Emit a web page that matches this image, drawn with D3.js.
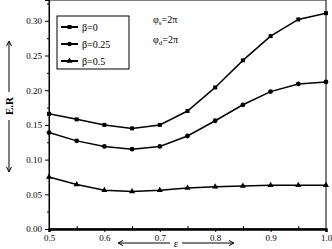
<!DOCTYPE html>
<html>
<head>
<script src="https://d3js.org/d3.v7.min.js"></script>
<style>
  body { margin: 0; background: #fff; }
  text { font-family: "Liberation Serif", "DejaVu Serif", serif; fill: #000; }
</style>
</head>
<body>
<script>
const w = 332, h = 249
const eps = [0.5, 0.55, 0.6, 0.65, 0.7, 0.75, 0.8, 0.85, 0.9, 0.95, 1.0]
const erBeta0 = [0.166, 0.158, 0.150, 0.145, 0.150, 0.170, 0.204, 0.243, 0.278, 0.302, 0.311]
const erBeta025 = [0.139, 0.127, 0.119, 0.115, 0.119, 0.134, 0.156, 0.179, 0.198, 0.209, 0.212]
const erBeta05 = [0.075, 0.064, 0.056, 0.054, 0.056, 0.059, 0.061, 0.062, 0.063, 0.063, 0.063]
const seriesNames = ["\u03b2=0", "\u03b2=0.25", "\u03b2=0.5"]
const markers = [d3.symbolSquare, d3.symbolCircle, d3.symbolTriangle]
const xTicks = [0.5, 0.6, 0.7, 0.8, 0.9, 1.0]
const yTicks = [0, 0.05, 0.10, 0.15, 0.20, 0.25, 0.30]

const series = [erBeta0, erBeta025, erBeta05]

const svg = d3.select("body").append("svg").attr("width", w).attr("height", h)

const x = d3.scaleLinear().domain([0.5, 1.0]).range([49, 326])
const y = d3.scaleLinear().domain([0, 0.33]).range([229, 0])

// frame
svg.append("rect").attr("x", x(0.5)).attr("y", y(0.33)).attr("width", x(1) - x(0.5)).attr("height", y(0) - y(0.33))
  .attr("fill", "none").attr("stroke", "#000").attr("stroke-width", 1)

// y axis
const yAx = svg.append("g").attr("transform", `translate(${x(0.5)},0)`)
  .call(d3.axisLeft(y).tickValues(yTicks).tickFormat(d3.format(".2f")).tickSize(4).tickPadding(3))
yAx.select(".domain").attr("stroke-width", 1)
yAx.selectAll("text").style("font-size", "9px").style("font-family", "Liberation Serif")
svg.append("g").attr("transform", `translate(${x(0.5)},0)`)
  .call(d3.axisLeft(y).tickValues(d3.range(0.025, 0.33, 0.05)).tickFormat("").tickSize(2))
  .select(".domain").remove()

// x axis
const xAx = svg.append("g").attr("transform", `translate(0,${y(0)})`)
  .call(d3.axisBottom(x).tickValues(xTicks).tickFormat(d3.format(".1f")).tickSize(3).tickPadding(3))
xAx.select(".domain").attr("stroke-width", 2.5)
xAx.selectAll("text").style("font-size", "9px").style("font-family", "Liberation Serif")
svg.append("g").attr("transform", `translate(0,${y(0)})`)
  .call(d3.axisBottom(x).tickValues([0.55, 0.65, 0.75, 0.85, 0.95]).tickSize(-3).tickFormat(""))
  .select(".domain").remove()

// lines
const line = d3.line().x((d, i) => x(eps[i])).y(d => y(d))
series.forEach((s, k) => {
  svg.append("path").datum(s).attr("d", line).attr("fill", "none").attr("stroke", "#000").attr("stroke-width", 1.5)
  svg.selectAll(".m" + k).data(s).enter().append("path")
    .attr("d", d3.symbol().type(markers[k]).size(k === 1 ? 18 : 16))
    .attr("transform", (d, i) => `translate(${x(eps[i])},${y(d)})`)
    .attr("fill", "#000")
})

// legend
const lg = svg.append("g")
lg.append("rect").attr("x", 57).attr("y", 16).attr("width", 72).attr("height", 53)
  .attr("fill", "#fff").attr("stroke", "#000").attr("stroke-width", 1)
seriesNames.forEach((n, k) => {
  const ly = 27 + k * 17
  lg.append("line").attr("x1", 61).attr("x2", 78).attr("y1", ly).attr("y2", ly).attr("stroke", "#000").attr("stroke-width", 2)
  lg.append("path").attr("d", d3.symbol().type(markers[k]).size(16)).attr("transform", `translate(69.5,${ly})`)
  lg.append("text").attr("x", 82).attr("y", ly + 3.5).style("font-size", "10px").text(n)
})

// annotations
const ann = [["s", 23], ["d", 43]]
ann.forEach(([sub, ay]) => {
  const t = svg.append("text").attr("x", 153).attr("y", ay).style("font-size", "10px")
  t.append("tspan").text("\u03c6")
  t.append("tspan").attr("dy", 2).style("font-size", "7px").text(sub)
  t.append("tspan").attr("dy", -2).text("=2\u03c0")
})

// y title with arrows
const ax = 9
svg.append("text").attr("transform", `translate(${ax + 4},106) rotate(-90)`).attr("text-anchor", "middle")
  .style("font-size", "11px").style("font-weight", "bold").text("E.R")
svg.append("line").attr("x1", ax).attr("x2", ax).attr("y1", 42).attr("y2", 92).attr("stroke", "#000")
svg.append("line").attr("x1", ax).attr("x2", ax).attr("y1", 120).attr("y2", 171).attr("stroke", "#000")
svg.append("path").attr("d", `M${ax - 2.5},46 L${ax},41 L${ax + 2.5},46`).attr("fill", "none").attr("stroke", "#000")
svg.append("path").attr("d", `M${ax - 2.5},167 L${ax},172 L${ax + 2.5},167`).attr("fill", "none").attr("stroke", "#000")

// x title with arrows
const bx = 243
svg.append("text").attr("x", 176).attr("y", bx + 3.5).attr("text-anchor", "middle").style("font-size", "11px").text("\u03b5")
svg.append("line").attr("x1", 119).attr("x2", 170).attr("y1", bx).attr("y2", bx).attr("stroke", "#000")
svg.append("line").attr("x1", 182).attr("x2", 233).attr("y1", bx).attr("y2", bx).attr("stroke", "#000")
svg.append("path").attr("d", `M123,${bx - 2.5} L118,${bx} L123,${bx + 2.5}`).attr("fill", "none").attr("stroke", "#000")
svg.append("path").attr("d", `M229,${bx - 2.5} L234,${bx} L229,${bx + 2.5}`).attr("fill", "none").attr("stroke", "#000")
</script>
</body>
</html>
